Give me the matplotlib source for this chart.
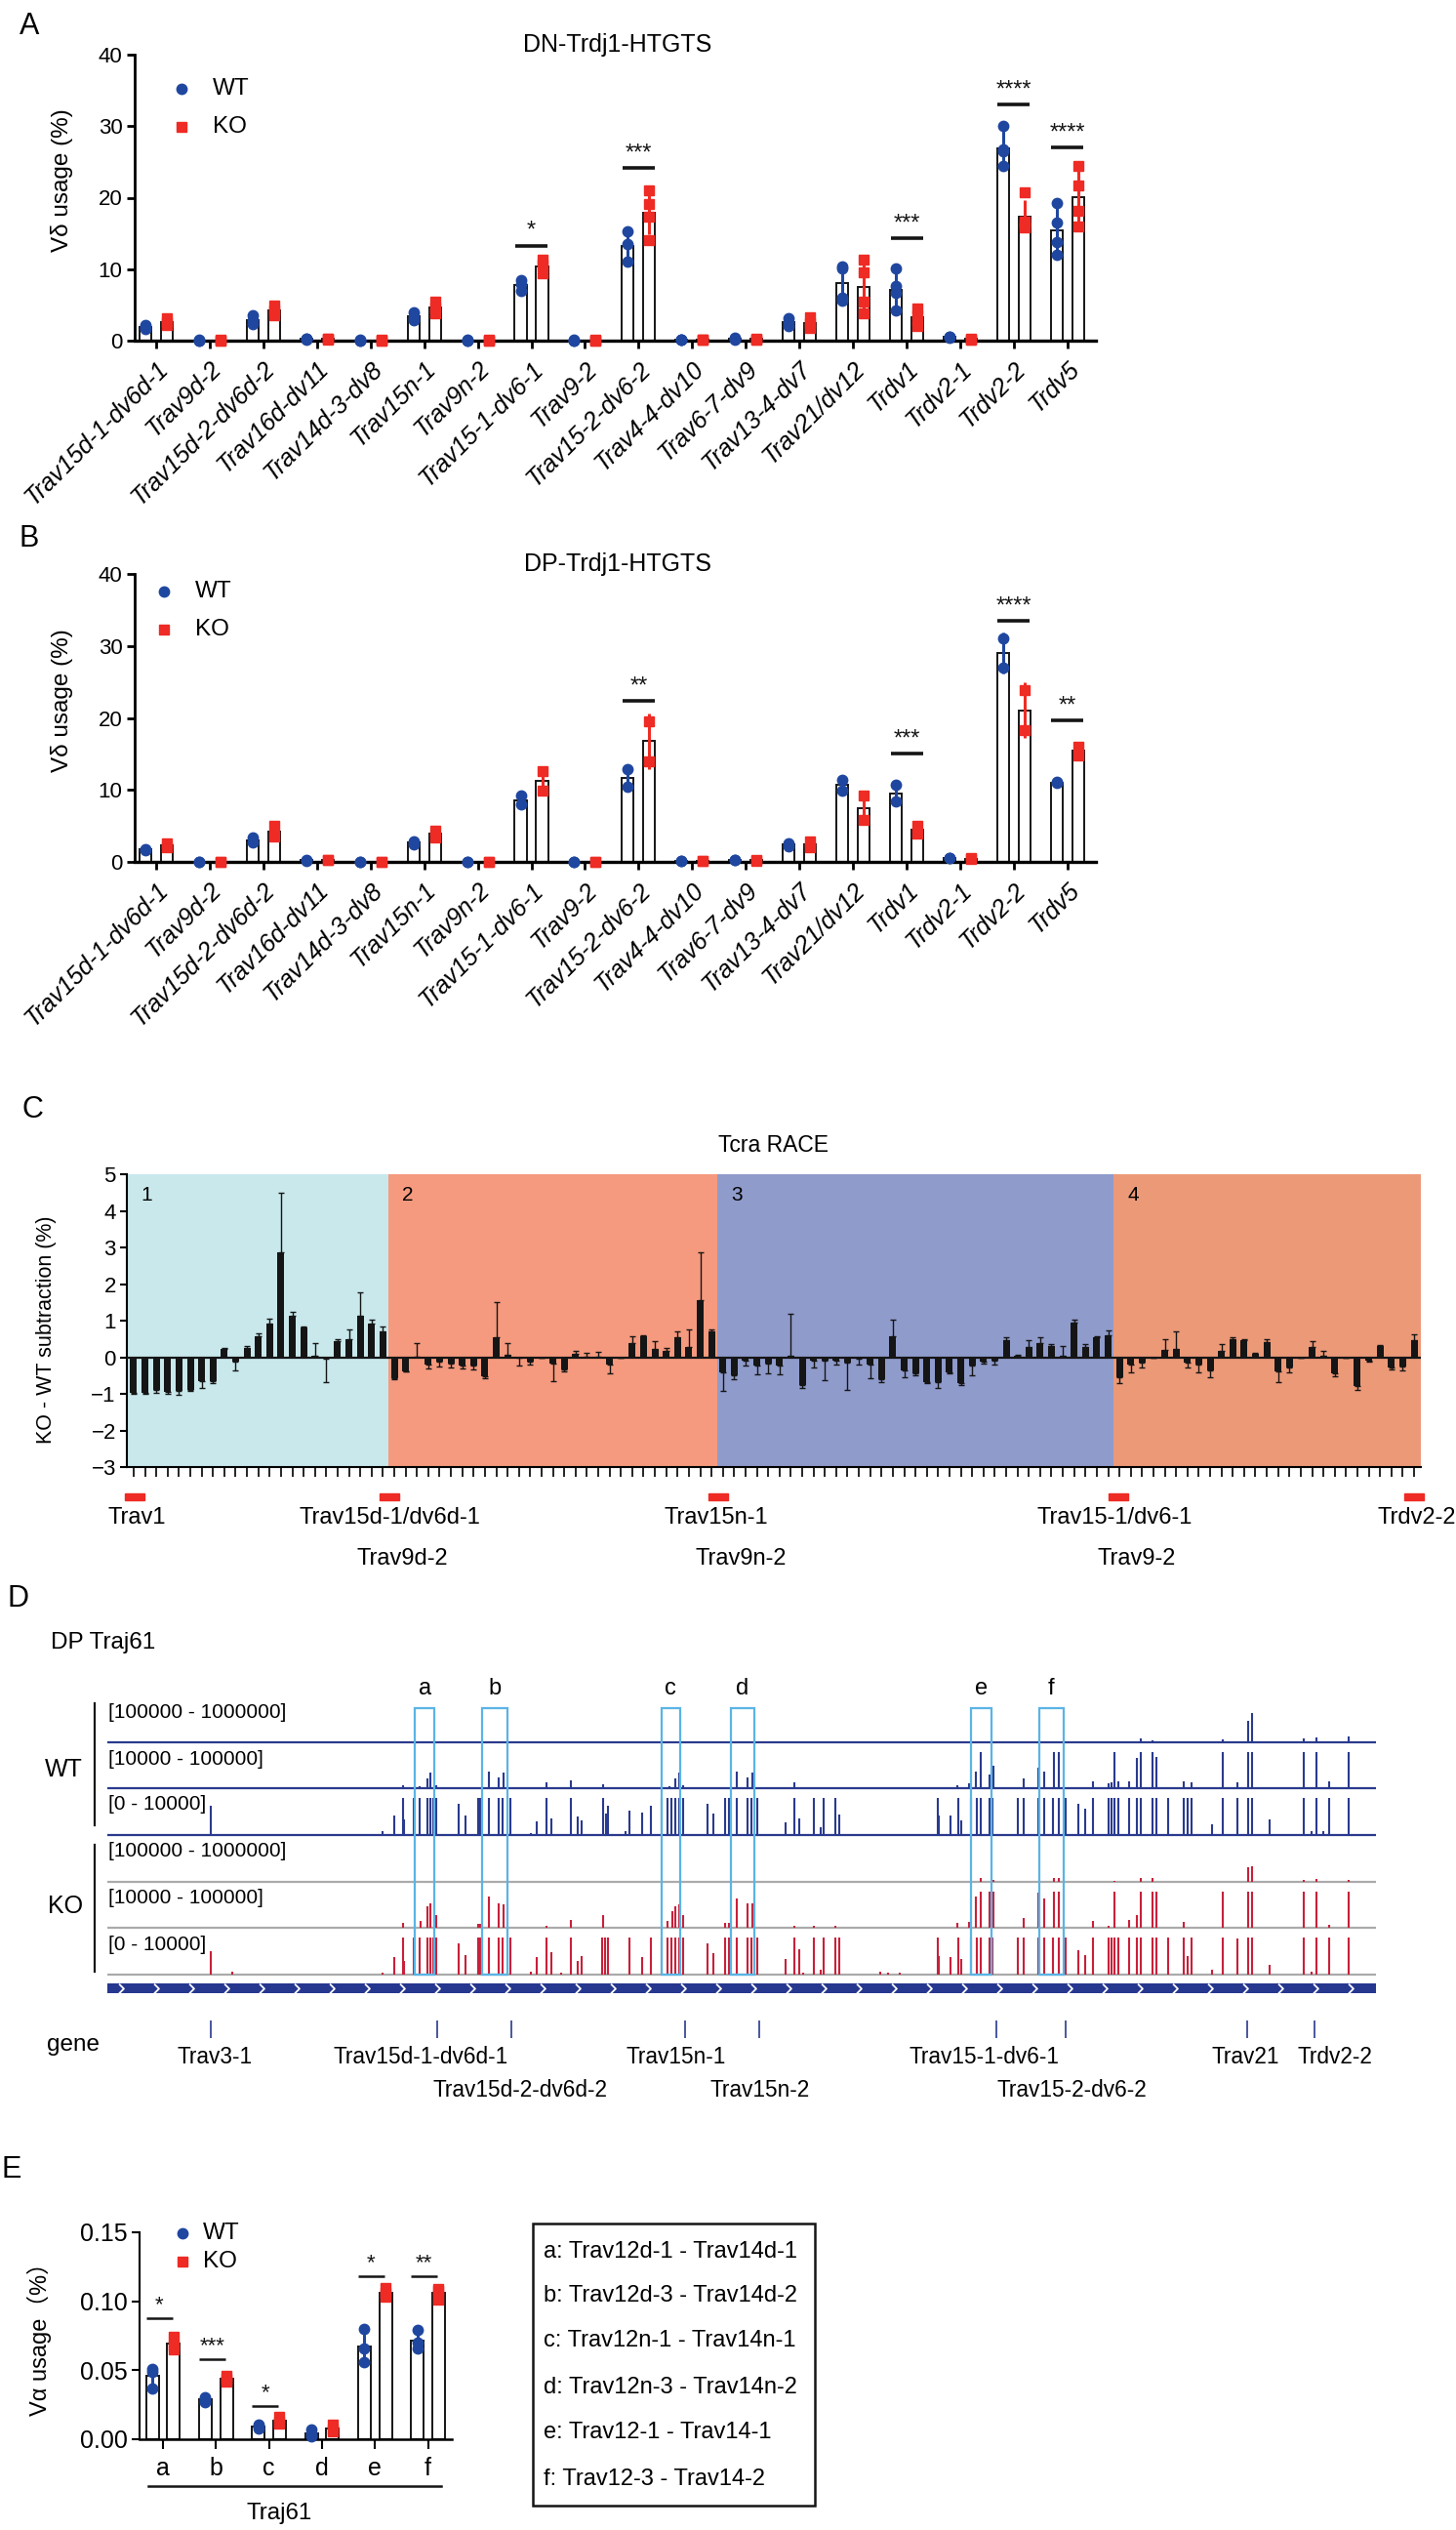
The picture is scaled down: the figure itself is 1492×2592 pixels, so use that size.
import numpy as np
import matplotlib
matplotlib.use("Agg")
import matplotlib.pyplot as plt
import matplotlib.transforms as mtransforms
from matplotlib.lines import Line2D
from matplotlib.patches import Rectangle
from matplotlib.path import Path

# ---------------- panel A / B : V-delta usage ----------------
ab_genes = ["Trav15d-1-dv6d-1", "Trav9d-2", "Trav15d-2-dv6d-2", "Trav16d-dv11",
            "Trav14d-3-dv8", "Trav15n-1", "Trav9n-2", "Trav15-1-dv6-1", "Trav9-2",
            "Trav15-2-dv6-2", "Trav4-4-dv10", "Trav6-7-dv9", "Trav13-4-dv7",
            "Trav21/dv12", "Trdv1", "Trdv2-1", "Trdv2-2", "Trdv5"]

dn_wt = [[2.2, 1.9, 1.7], [0.1, 0.05, 0.05], [3.5, 2.9, 2.3], [0.3, 0.3, 0.2],
         [0.1, 0.05, 0.05], [3.9, 3.3, 2.9], [0.1, 0.05, 0.05], [8.5, 7.9, 7.0],
         [0.1, 0.05, 0.05], [15.3, 13.5, 11.0], [0.2, 0.1, 0.1], [0.4, 0.3, 0.2],
         [3.1, 2.6, 2.0], [10.4, 10.1, 6.0, 5.6], [10.1, 7.6, 6.7, 4.2], [0.6, 0.5, 0.4],
         [30.1, 26.7, 26.5, 24.4], [19.2, 16.5, 13.8, 12.0]]
dn_ko = [[3.1, 2.6, 2.2], [0.1, 0.05, 0.05], [4.9, 4.2, 3.5], [0.3, 0.2, 0.3],
         [0.1, 0.05, 0.05], [5.5, 4.7, 3.8], [0.1, 0.05, 0.05], [11.3, 10.6, 9.4],
         [0.1, 0.05, 0.05], [21.0, 19.1, 17.3, 14.0], [0.2, 0.1, 0.1], [0.3, 0.2, 0.2],
         [3.3, 2.4, 1.8], [11.3, 9.5, 5.4, 3.8], [4.5, 3.5, 2.9, 2.0], [0.3, 0.2, 0.2],
         [20.7, 16.7, 16.3, 15.8], [24.4, 21.7, 18.1, 16.0]]
dn_sig_idx = [7, 9, 14, 16, 17]
dn_sig_y = [13.3, 24.2, 14.3, 33.0, 27.0]
dn_sig_txt = ["*", "***", "***", "****", "****"]

dp_wt = [[1.8, 1.6], [0.05, 0.05], [3.4, 2.7], [0.3, 0.2], [0.05, 0.05], [2.9, 2.5],
         [0.05, 0.05], [9.2, 8.0], [0.05, 0.05], [12.9, 10.5], [0.2, 0.1], [0.3, 0.3],
         [2.6, 2.2], [11.4, 9.9], [10.7, 8.4], [0.6, 0.5], [31.0, 27.0], [11.1, 11.0]]
dp_ko = [[2.6, 2.1], [0.05, 0.05], [5.0, 3.5], [0.3, 0.3], [0.05, 0.05], [4.4, 3.4],
         [0.05, 0.05], [12.6, 9.9], [0.05, 0.05], [19.5, 14.0], [0.1, 0.1], [0.3, 0.2],
         [2.9, 2.1], [9.2, 5.8], [5.0, 4.0], [0.5, 0.4], [23.8, 18.3], [16.0, 14.8]]
dp_sig_idx = [9, 14, 16, 17]
dp_sig_y = [22.4, 15.0, 33.5, 19.6]
dp_sig_txt = ["**", "***", "****", "**"]

# ---------------- panel C : Tcra RACE, KO - WT ----------------
c_vals = [-0.97, -0.98, -0.90, -0.95, -0.93, -0.88, -0.65, -0.65, 0.22, -0.12,
          0.25, 0.58, 0.93, 2.87, 1.13, 0.82, 0.03, -0.05, 0.45, 0.50,
          1.13, 0.92, 0.70,
          -0.57, -0.38, 0.01, -0.20, -0.12, -0.18, -0.22, -0.22, -0.52, 0.55,
          0.08, -0.02, -0.12, 0.0, -0.18, -0.33, 0.10, 0.02, 0.01, -0.20,
          0.0, 0.38, 0.58, 0.22, 0.17, 0.55, 0.28, 1.57, 0.72,
          -0.40, -0.48, -0.10, -0.22, -0.17, -0.22, 0.05, -0.75, -0.08, -0.08,
          -0.10, -0.15, -0.05, -0.20, -0.60, 0.58, -0.35, -0.45, -0.68, -0.68,
          -0.42, -0.70, -0.22, -0.12, -0.08, 0.47, 0.04, 0.28, 0.38, 0.30,
          0.03, 0.95, 0.28, 0.54, 0.60,
          -0.55, -0.20, -0.15, 0.0, 0.20, 0.22, -0.15, -0.20, -0.35, 0.18,
          0.50, 0.48, 0.10, 0.42, -0.38, -0.28, 0.0, 0.28, 0.03, -0.45,
          0.0, -0.78, -0.08, 0.30, -0.27, -0.25, 0.48]
c_err = [0.02, 0.02, 0.08, 0.05, 0.10, 0.04, 0.20, 0.05, 0.03, 0.23,
         0.07, 0.07, 0.12, 1.63, 0.10, 0.01, 0.35, 0.63, 0.05, 0.25,
         0.65, 0.11, 0.15,
         0.03, 0.0, 0.37, 0.10, 0.13, 0.09, 0.08, 0.11, 0.05, 0.97,
         0.30, 0.20, 0.08, 0.0, 0.47, 0.05, 0.08, 0.10, 0.14, 0.25,
         0.0, 0.20, 0.02, 0.21, 0.08, 0.15, 0.47, 1.30, 0.03,
         0.53, 0.12, 0.13, 0.25, 0.26, 0.25, 1.13, 0.10, 0.19, 0.54,
         0.10, 0.75, 0.15, 0.37, 0.07, 0.46, 0.20, 0.05, 0.02, 0.17,
         0.03, 0.07, 0.26, 0.06, 0.12, 0.08, 0.02, 0.20, 0.17, 0.05,
         0.27, 0.07, 0.09, 0.03, 0.13,
         0.15, 0.20, 0.13, 0.0, 0.30, 0.50, 0.13, 0.20, 0.20, 0.19,
         0.05, 0.02, 0.02, 0.08, 0.30, 0.14, 0.0, 0.17, 0.15, 0.07,
         0.0, 0.10, 0.04, 0.03, 0.06, 0.12, 0.14]
c_regions = ["1", "2", "3", "4"]
c_region_edges = [-0.6, 22.5, 51.5, 86.5, 113.6]
c_region_colors = ["#C8E8EC", "#F59A7E", "#8F9BCB", "#EC9978"]
c_mark_pos = [0.1, 22.6, 51.6, 86.9, 113.0]
c_row1 = ["Trav1", "Trav15d-1/dv6d-1", "Trav15n-1", "Trav15-1/dv6-1", "Trdv2-2"]
c_row1_pos = [0.3, 22.6, 51.4, 86.6, 113.2]
c_row2 = ["Trav9d-2", "Trav9n-2", "Trav9-2"]
c_row2_pos = [23.75, 53.6, 88.5]

# ---------------- panel D : DP Traj61 tracks (position, relative height) ----------------
wt1_pos = [750.1, 814.6, 823.9, 879.1, 899.3, 902.3, 943.3, 953.3, 978.7]
wt1_h = [0.03, 0.11, 0.06, 0.09, 0.58, 0.80, 0.10, 0.13, 0.15]

wt2_pos = [232.7, 246.5, 252.1, 254.7, 259.2, 300.6, 308.8, 312.5, 346.1, 365.5, 390.8,
           443.0, 447.5, 450.5, 453.9, 496.0, 504.4, 508.1, 541.3, 670.3, 679.6, 684.5,
           688.6, 695.3, 698.3, 722.5, 733.7, 738.2, 746.4, 750.1, 777.3, 789.6, 791.5,
           794.1, 797.1, 805.3, 811.6, 814.6, 823.9, 826.9, 848.2, 854.9, 879.1, 891.1,
           899.3, 902.3, 943.3, 953.3, 963.0, 978.7]
wt2_h = [0.08, 0.04, 0.27, 0.42, 0.08, 0.44, 0.30, 0.42, 0.15, 0.20, 0.10,
         0.04, 0.27, 0.42, 0.08, 0.44, 0.30, 0.42, 0.15, 0.08, 0.13, 0.44,
         0.97, 0.38, 0.60, 0.27, 0.55, 0.44, 0.97, 0.97, 0.19, 0.13, 0.16,
         0.97, 0.19, 0.19, 0.81, 0.97, 0.97, 0.85, 0.19, 0.15, 0.97, 0.15,
         0.97, 0.97, 0.97, 0.97, 0.19, 0.97]

wt3_pos = [81.7, 98.1, 135.4, 146.6, 172.7, 206.3, 216.7, 226.0, 232.7, 234.2, 241.7,
           246.2, 252.1, 254.7, 257.3, 259.2, 277.1, 282.0, 292.0, 293.9, 300.6, 308.8,
           311.8, 317.4, 333.8, 338.6, 346.1, 349.8, 365.5, 371.1, 374.1, 390.8, 392.7,
           394.6, 408.7, 411.4, 421.4, 428.1, 436.7, 441.2, 444.9, 447.5, 450.5, 453.9,
           472.9, 477.4, 487.1, 490.0, 496.0, 504.4, 507.7, 512.6, 534.9, 541.3, 545.0,
           557.3, 562.2, 564.8, 574.1, 577.1, 609.5, 615.1, 654.3, 655.4, 664.7, 671.1,
           672.9, 681.1, 685.2, 688.6, 695.3, 697.9, 717.7, 722.1, 733.7, 738.2, 745.6,
           750.1, 755.0, 765.4, 771.0, 777.3, 789.6, 791.5, 794.1, 797.1, 805.3, 811.6,
           814.6, 823.9, 826.9, 836.2, 848.2, 851.9, 854.9, 870.6, 879.1, 891.1, 899.3,
           902.3, 916.0, 943.3, 948.9, 953.3, 958.2, 963.0, 978.7]
wt3_h = [0.80, 0.03, 0.02, 0.02, 0.03, 0.03, 0.10, 0.52, 1, 0.42, 1,
         1, 1, 1, 1, 1, 0.83, 0.52, 1, 1, 1, 1,
         1, 1, 0.05, 0.37, 1, 0.45, 1, 0.50, 0.40, 1, 0.57,
         0.78, 0.10, 0.65, 0.60, 0.78, 1, 1, 1, 1, 1, 1,
         0.85, 0.57, 1, 1, 1, 1, 1, 1, 0.35, 1, 0.45,
         1, 0.20, 1, 1, 0.55, 0.03, 0.03, 1, 0.52, 0.52, 1,
         0.40, 1, 1, 1, 1, 1, 1, 1, 1, 1, 1,
         1, 1, 0.83, 0.70, 1, 1, 1, 1, 1, 1, 1,
         1, 1, 1, 1, 1, 1, 1, 0.30, 1, 1, 1,
         1, 0.43, 1, 0.10, 1, 0.10, 1, 1]

ko1_pos = [688.6, 698.3, 746.4, 750.1, 794.1, 814.6, 823.9, 899.3, 902.3, 943.3, 953.3, 978.7]
ko1_h = [0.10, 0.04, 0.10, 0.11, 0.03, 0.10, 0.11, 0.40, 0.43, 0.05, 0.09, 0.05]

ko2_pos = [232.7, 247.3, 252.1, 254.7, 259.2, 292.0, 293.9, 300.6, 308.8, 312.5, 346.1,
           365.5, 390.8, 441.9, 445.7, 447.9, 450.5, 453.9, 487.1, 490.0, 496.0, 504.4,
           508.1, 541.3, 557.3, 574.1, 670.3, 679.6, 684.5, 688.6, 695.3, 698.3, 722.5,
           733.7, 738.2, 746.4, 750.1, 777.3, 789.6, 794.1, 805.3, 811.6, 814.6, 823.9,
           826.9, 848.2, 879.1, 899.3, 902.3, 943.3, 953.3, 963.0, 978.7]
ko2_h = [0.12, 0.18, 0.57, 0.67, 0.35, 0.11, 0.11, 0.83, 0.67, 0.64, 0.05,
         0.22, 0.33, 0.18, 0.44, 0.57, 0.64, 0.35, 0.12, 0.12, 0.78, 0.67,
         0.67, 0.05, 0.05, 0.05, 0.12, 0.15, 0.83, 0.97, 0.97, 0.97, 0.27,
         0.94, 0.80, 0.97, 0.97, 0.18, 0.05, 0.97, 0.22, 0.34, 0.97, 0.97,
         0.97, 0.15, 0.97, 0.97, 0.97, 0.97, 0.97, 0.08, 0.97]

ko3_pos = [81.7, 98.1, 216.7, 226.0, 232.7, 234.2, 241.7, 246.2, 252.1, 254.7, 257.3,
           259.2, 277.1, 282.0, 292.0, 293.9, 300.6, 308.8, 311.8, 317.4, 333.8, 338.6,
           346.1, 349.8, 358.0, 365.5, 371.1, 374.1, 389.7, 392.0, 394.6, 411.4, 421.4,
           428.1, 436.7, 441.2, 444.9, 447.5, 450.5, 453.9, 472.9, 477.4, 487.1, 490.0,
           496.0, 504.4, 507.7, 512.6, 534.9, 541.3, 545.0, 548.7, 557.3, 562.2, 564.8,
           574.1, 577.1, 609.5, 615.1, 624.4, 654.3, 655.4, 664.7, 671.1, 672.9, 681.1,
           685.2, 688.6, 695.3, 697.9, 717.7, 722.1, 733.7, 738.2, 745.6, 750.1, 755.0,
           765.4, 771.0, 777.3, 789.6, 791.5, 794.1, 797.1, 805.3, 811.6, 814.6, 823.9,
           826.9, 836.2, 848.2, 851.9, 854.9, 870.6, 879.1, 891.1, 899.3, 902.3, 916.0,
           943.3, 948.9, 953.3, 963.0, 978.7]
ko3_h = [0.62, 0.09, 0.04, 0.47, 1, 0.38, 1, 1, 1, 1, 1,
         1, 0.85, 0.53, 1, 1, 1, 1, 1, 1, 0.09, 0.47,
         1, 0.60, 0.04, 1, 0.38, 0.49, 1, 1, 1, 1, 0.47,
         1, 1, 1, 1, 1, 1, 1, 0.85, 0.58, 1, 1,
         1, 1, 1, 1, 0.42, 1, 0.69, 0.04, 1, 0.12, 1,
         1, 1, 0.09, 0.04, 0.04, 1, 0.50, 0.47, 1, 0.42, 1,
         1, 1, 1, 1, 1, 1, 1, 1, 1, 1, 1,
         0.65, 0.53, 1, 1, 1, 1, 1, 1, 1, 1, 1,
         1, 1, 1, 0.49, 1, 0.12, 1, 0.97, 1, 1, 0.27,
         1, 0.09, 1, 1, 1]

d_track_labels = ["[100000 - 1000000]", "[10000 - 100000]", "[0 - 10000]"]
d_boxes = ["a", "b", "c", "d", "e", "f"]
d_box_start = [242.4, 295.4, 436.7, 491.3, 681.1, 734.4]
d_box_end = [257.7, 315.5, 451.6, 510.0, 697.2, 753.8]
d_genes = ["Trav3-1", "Trav15d-1-dv6d-1", "Trav15d-2-dv6d-2", "Trav15n-1", "Trav15n-2",
           "Trav15-1-dv6-1", "Trav15-2-dv6-2", "Trav21", "Trdv2-2"]
d_gene_pos = [81.3, 260.0, 318.5, 455.0, 513.7, 700.9, 755.3, 898.5, 951.9]
d_gene_label_pos = [85.0, 247.0, 325.6, 448.0, 514.0, 691.0, 760.5, 897.0, 968.0]
d_gene_row = [1, 1, 2, 1, 2, 1, 2, 1, 1]

# ---------------- panel E : V-alpha usage, Traj61 ----------------
e_pairs = ["a", "b", "c", "d", "e", "f"]
e_wt = [[0.051, 0.049, 0.037], [0.0305, 0.029, 0.027], [0.0105, 0.009, 0.0077],
        [0.007, 0.0042, 0.0023], [0.080, 0.066, 0.056], [0.0793, 0.070, 0.066]]
e_ko = [[0.074, 0.068, 0.065], [0.046, 0.044, 0.042], [0.016, 0.0125, 0.011],
        [0.0105, 0.007, 0.0054], [0.110, 0.1063, 0.103], [0.109, 0.1075, 0.101]]
e_sig_idx = [0, 1, 2, 4, 5]
e_sig_y = [0.0876, 0.0582, 0.0244, 0.1185, 0.1185]
e_sig_txt = ["*", "***", "*", "*", "**"]
e_key = ["a: Trav12d-1 - Trav14d-1", "b: Trav12d-3 - Trav14d-2", "c: Trav12n-1 - Trav14n-1",
         "d: Trav12n-3 - Trav14n-2", "e: Trav12-1 - Trav14-1", "f: Trav12-3 - Trav14-2"]

# ---------------- drawing ----------------
W, H = 1492, 2592
WT_BLUE = "#1F47A0"
KO_RED = "#EE2B24"
NAVY = "#2A3A8E"
TRACK_RED = "#C8203A"
BOX_BLUE = "#5AB4E5"
INK = "#151515"

plt.rcParams["font.family"] = ["Liberation Sans", "DejaVu Sans"]
plt.rcParams["axes.linewidth"] = 2.0

fig = plt.figure(figsize=(W / 100, H / 100), dpi=100)


def px_axes(left, top, right, bottom):
    return fig.add_axes([left / W, 1 - bottom / H, (right - left) / W, (bottom - top) / H])


def ftext(x, y, s, **kw):
    kw.setdefault("va", "center")
    fig.text(x / W, 1 - y / H, s, **kw)


def fmark(x, y, marker, color, ms):
    fig.add_artist(Line2D([x / W], [1 - y / H], marker=marker, color=color, ms=ms,
                          ls="none", transform=fig.transFigure))


def fline(x0, x1, y0, y1, **kw):
    fig.add_artist(Line2D([x0 / W, x1 / W], [1 - y0 / H, 1 - y1 / H],
                          transform=fig.transFigure, **kw))


def group_bars(ax, x, wt_pts, ko_pts, off, width, ms):
    for pts, dx, col, mk, m_s in ((wt_pts, -off, WT_BLUE, "o", ms), (ko_pts, off, KO_RED, "s", ms - 1)):
        m = np.array([np.mean(p) for p in pts])
        sd = np.array([np.std(p, ddof=1) for p in pts])
        ax.bar(x + dx, m, width, facecolor="white", edgecolor=INK, lw=1.4, zorder=2)
        ax.errorbar(x + dx, m, yerr=sd, fmt="none", ecolor=col, elinewidth=2.2, capsize=0, zorder=3)
        for xi, p in zip(x + dx, pts):
            ax.plot([xi] * len(p), p, ls="none", marker=mk, color=col, ms=m_s, zorder=4, clip_on=False)


def sig_marks(ax, x, idx, ys, txt, x0, x1, dy, fs, lw):
    for i, y, s in zip(idx, ys, txt):
        ax.plot([x[i] + x0, x[i] + x1], [y, y], color=INK, lw=lw, solid_capstyle="butt", zorder=5)
        ax.text(x[i] + (x0 + x1) / 2, y + dy, s, ha="center", va="bottom", fontsize=fs, color=INK)


def usage_panel(top, bottom, wt, ko, sig_idx, sig_y, sig_txt, title, leg_x, leg_y):
    ax = px_axes(138, top, 1123, bottom)
    x = np.arange(len(ab_genes))
    group_bars(ax, x, wt, ko, 0.2, 0.22, 7.5)
    sig_marks(ax, x, sig_idx, sig_y, sig_txt, -0.3, 0.3, 0.5, 17, 2.6)
    ax.set_xlim(-0.4, 17.53)
    ax.set_ylim(0, 40)
    ax.set_yticks([0, 10, 20, 30, 40])
    ax.set_xticks(x)
    ax.set_xticklabels(ab_genes, rotation=45, ha="right", va="top", rotation_mode="anchor",
                       fontstyle="italic", fontsize=18)
    ax.tick_params(axis="y", labelsize=16, length=6, width=2, pad=3)
    ax.tick_params(axis="x", length=6, width=2, pad=6)
    for s in ("top", "right"):
        ax.spines[s].set_visible(False)
    ax.spines["bottom"].set_linewidth(2.4)
    ax.set_ylabel("V\u03b4 usage (%)", fontsize=17.5)
    ax.yaxis.set_label_coords(-0.064, 0.56)
    ftext(633, top - 10, title, ha="center", fontsize=18)
    fmark(leg_x, leg_y, "o", WT_BLUE, 7.5)
    fmark(leg_x, leg_y + 39, "s", KO_RED, 6.5)
    ftext(leg_x + 32, leg_y, "WT", fontsize=17.5)
    ftext(leg_x + 32, leg_y + 39, "KO", fontsize=17.5)
    return ax


usage_panel(56, 349, dn_wt, dn_ko, dn_sig_idx, dn_sig_y, dn_sig_txt, "DN-Trdj1-HTGTS", 186, 91)
usage_panel(588, 883, dp_wt, dp_ko, dp_sig_idx, dp_sig_y, dp_sig_txt, "DP-Trdj1-HTGTS", 168, 606)
ftext(30, 27, "A", ha="center", fontsize=22)
ftext(30, 552, "B", ha="center", fontsize=22)

# ---- panel C ----
axc = px_axes(130, 1203, 1456, 1503)
ci = np.arange(len(c_vals))
cv = np.array(c_vals)
ce = np.array(c_err)
for x0, x1, col in zip(c_region_edges[:-1], c_region_edges[1:], c_region_colors):
    axc.axvspan(x0, x1, color=col, lw=0, zorder=0)
lo = np.where(cv < 0, ce, 0)
hi = np.where(cv >= 0, ce, 0)
axc.bar(ci, cv, 0.6, color=INK, zorder=3)
axc.errorbar(ci, cv, yerr=[lo, hi], fmt="none", ecolor=INK, elinewidth=1.0, capsize=2,
             capthick=1.0, zorder=3)
axc.axhline(0, color=INK, lw=1.6, zorder=4)
axc.set_xlim(c_region_edges[0], c_region_edges[-1])
axc.set_ylim(-3, 5)
axc.set_yticks(range(-3, 6))
axc.set_xticks(ci)
axc.set_xticklabels([])
axc.tick_params(axis="x", length=7, width=1.2)
axc.tick_params(axis="y", labelsize=16, length=5, width=1.5, pad=3)
for s in ("top", "right"):
    axc.spines[s].set_visible(False)
axc.spines["left"].set_linewidth(1.5)
axc.spines["bottom"].set_linewidth(1.5)
axc.set_ylabel("KO - WT subtraction (%)", fontsize=15.5)
axc.yaxis.set_label_coords(-0.054, 0.47)
for s, x0 in zip(c_regions, c_region_edges[:-1]):
    axc.text(x0 + 1.7, 4.42, s, ha="center", va="center", fontsize=15)
trans = mtransforms.blended_transform_factory(axc.transData, fig.transFigure)
for xm in c_mark_pos:
    axc.add_patch(Rectangle((xm - 0.86, 1 - 1537 / H), 1.72, 7 / H, transform=trans,
                            color="#EE2B24", clip_on=False))
for s, xm in zip(c_row1, c_row1_pos):
    axc.text(xm, 1 - 1555 / H, s, transform=trans, ha="center", va="center", fontsize=17)
for s, xm in zip(c_row2, c_row2_pos):
    axc.text(xm, 1 - 1597 / H, s, transform=trans, ha="center", va="center", fontsize=17)
ftext(792, 1173, "Tcra RACE", ha="center", fontsize=16.5)
ftext(33, 1137, "C", ha="center", fontsize=22)

# ---- panel D ----
axd = fig.add_axes([110 / W, 1 - 2180 / H, 1300 / W, 560 / H])
axd.set_xlim(0, 1000)
axd.set_ylim(2180, 1620)
axd.axis("off")
TH = 38
tracks = [(wt1_pos, wt1_h, 1785, NAVY, NAVY), (wt2_pos, wt2_h, 1832, NAVY, NAVY),
          (wt3_pos, wt3_h, 1880, NAVY, NAVY), (ko1_pos, ko1_h, 1928, TRACK_RED, "#ABABAB"),
          (ko2_pos, ko2_h, 1975, TRACK_RED, "#ABABAB"), (ko3_pos, ko3_h, 2023, TRACK_RED, "#ABABAB")]
label_y = [1754, 1802, 1848, 1897, 1944, 1992]
for k, (pos, hh, base, col, lcol) in enumerate(tracks):
    axd.hlines(base, 0, 1000, color=lcol, lw=1.6, zorder=2)
    axd.vlines(pos, base, base - np.array(hh) * TH, color=col, lw=1.5, zorder=3)
    axd.text(1.0, label_y[k], d_track_labels[k % 3], ha="left", va="center", fontsize=15)
for s, u0, u1 in zip(d_boxes, d_box_start, d_box_end):
    axd.add_patch(Rectangle((u0, 1750), u1 - u0, 273, fill=False, ec=BOX_BLUE, lw=1.6, zorder=5))
    axd.text((u0 + u1) / 2, 1730, s, ha="center", va="center", fontsize=17)
axd.add_patch(Rectangle((0, 2032), 1000, 10, color="#26378F", lw=0, zorder=2))
chev = Path([(-0.5, 1.0), (0.5, 0.0), (-0.5, -1.0)], [Path.MOVETO, Path.LINETO, Path.LINETO])
chev_u = np.arange(10.5, 1000, 27.7)
axd.plot(chev_u, np.full(len(chev_u), 2037.0), ls="none", marker=chev, ms=7, mfc="none",
         mec="white", mew=1.3, zorder=3)
axd.vlines(d_gene_pos, 2070, 2088, color=NAVY, lw=1.2)
for s, u, r in zip(d_genes, d_gene_label_pos, d_gene_row):
    axd.text(u, 2108 if r == 1 else 2142, s, ha="center", va="center", fontsize=16.3)
fline(97, 97, 1745, 1870, color=INK, lw=1.6)
fline(97, 97, 1890, 2020, color=INK, lw=1.6)
ftext(65, 1813, "WT", ha="center", fontsize=18)
ftext(67, 1953, "KO", ha="center", fontsize=18)
ftext(48, 2095, "gene", ha="left", fontsize=17.5)
ftext(52, 1683, "DP Traj61", ha="left", fontsize=17.5)
ftext(18, 1638, "D", ha="center", fontsize=22)

# ---- panel E ----
axe = px_axes(143, 2287, 463, 2499)
xe = np.arange(len(e_pairs))
group_bars(axe, xe, e_wt, e_ko, 0.2, 0.24, 7.5)
sig_marks(axe, xe, e_sig_idx, e_sig_y, e_sig_txt, -0.32, 0.18, 0.002, 16, 1.8)
axe.set_xlim(-0.44, 5.45)
axe.set_ylim(0, 0.15)
axe.set_yticks([0, 0.05, 0.10, 0.15])
axe.set_yticklabels(["0.00", "0.05", "0.10", "0.15"])
axe.set_xticks(xe)
axe.set_xticklabels(e_pairs, fontsize=18)
axe.tick_params(axis="y", labelsize=18, length=6, width=1.5, pad=3)
axe.tick_params(axis="x", length=7, width=1.5, pad=6)
for s in ("top", "right"):
    axe.spines[s].set_visible(False)
axe.spines["left"].set_linewidth(1.5)
axe.spines["bottom"].set_linewidth(1.8)
axe.set_ylabel("V\u03b1 usage\uff08%\uff09", fontsize=17, family=["Liberation Sans", "Noto Sans CJK SC"])
axe.yaxis.set_label_coords(-0.28, 0.51)
fline(152, 452, 2547, 2547, color=INK, lw=1.8)
ftext(286, 2575, "Traj61", ha="center", fontsize=17.3)
fmark(187, 2288, "o", WT_BLUE, 7.5)
fmark(187, 2317, "s", KO_RED, 6.5)
ftext(208, 2288, "WT", fontsize=17.5)
ftext(208, 2317, "KO", fontsize=17.5)
fig.add_artist(Rectangle((546 / W, 1 - 2567 / H), (835 - 546) / W, (2567 - 2278) / H,
                         transform=fig.transFigure, fill=False, ec=INK, lw=1.8))
for k, s in enumerate(e_key):
    ftext(557, [2307, 2352, 2398, 2446, 2492, 2540][k], s, ha="left", fontsize=17)
ftext(12, 2223, "E", ha="center", fontsize=22)

fig.savefig("out.png", dpi=100)
